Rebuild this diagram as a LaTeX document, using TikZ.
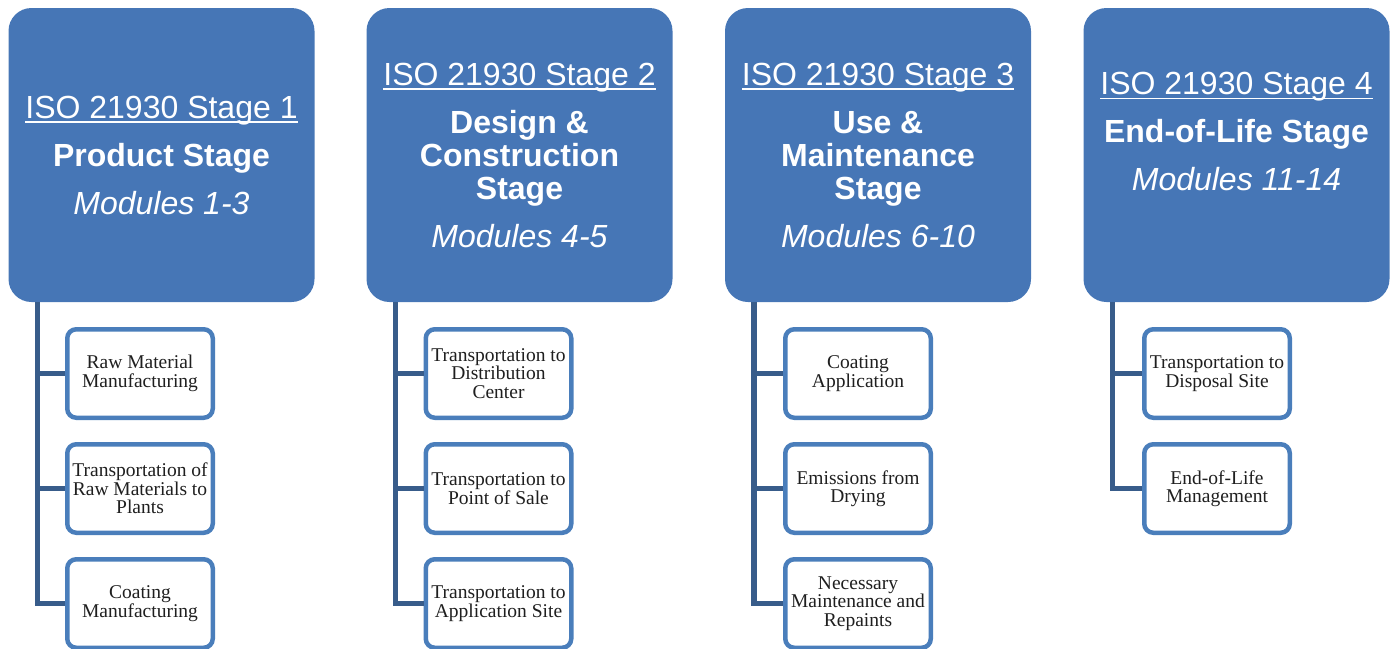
\documentclass[tikz,border=0pt]{standalone}
\usepackage{fontspec}
\setmainfont{Liberation Sans}
\newfontfamily\taskfont{Liberation Serif}
\usetikzlibrary{positioning}
\definecolor{stageblue}{RGB}{70,118,182}
\definecolor{taskblue}{RGB}{74,126,187}
\definecolor{trunkblue}{RGB}{56,92,138}
\newsavebox\isobox
\newcommand{\isoline}[1]{\sbox\isobox{#1}\rlap{\rule[-5pt]{\wd\isobox}{1.6pt}}\usebox\isobox}
\tikzset{
  stagebox/.style={fill=stageblue,rounded corners=23pt,minimum width=306pt,minimum height=294pt,
    text=white,align=center,inner sep=0pt,font=\fontsize{32}{33}\selectfont},
  taskbox/.style={draw=taskblue,fill=white,line width=4.5pt,rounded corners=9pt,
    minimum width=145.5pt,minimum height=88.5pt,align=center,inner sep=0pt,
    text=black!88,font=\taskfont\fontsize{19.5}{18.4}\selectfont},
  trunk/.style={draw=trunkblue,line width=5.5pt}
}
\begin{document}
\begin{tikzpicture}[x=1pt,y=-1pt]
\useasboundingbox (0,0) rectangle (1395,648);
% stages
\node[stagebox](s1) at (161.5,155){\isoline{ISO 21930 Stage 1}\\[15pt]\textbf{Product Stage}\\[15pt]\textit{Modules 1-3}};
\node[stagebox](s2) at (519.5,155){\isoline{ISO 21930 Stage 2}\\[15pt]\textbf{Design \&}\\\textbf{Construction}\\\textbf{Stage}\\[15pt]\textit{Modules 4-5}};
\node[stagebox](s3) at (878,155){\isoline{ISO 21930 Stage 3}\\[15pt]\textbf{Use \&}\\\textbf{Maintenance}\\\textbf{Stage}\\[15pt]\textit{Modules 6-10}};
\node[stagebox](s4) at (1236.5,155){\isoline{ISO 21930 Stage 4}\\[15pt]\textbf{End-of-Life Stage}\\[15pt]\textit{Modules 11-14}\\[15pt]\mbox{}};
% trunk points
\coordinate(t1) at ([xshift=29pt]s1.south west);
\coordinate(t2) at ([xshift=29pt]s2.south west);
\coordinate(t3) at ([xshift=29pt]s3.south west);
\coordinate(t4) at ([xshift=29pt]s4.south west);
% modules
\node[taskbox](m11) at (140,373.5){Raw Material\\Manufacturing};
\node[taskbox](m12) at (140,488.5){Transportation of\\Raw Materials to\\Plants};
\node[taskbox](m13) at (140,603.5){Coating\\Manufacturing};
\node[taskbox](m21) at (498.5,373.5){Transportation to\\Distribution\\Center};
\node[taskbox](m22) at (498.5,488.5){Transportation to\\Point of Sale};
\node[taskbox](m23) at (498.5,603.5){Transportation to\\Application Site};
\node[taskbox](m31) at (858,373.5){Coating\\Application};
\node[taskbox](m32) at (858,488.5){Emissions from\\Drying};
\node[taskbox](m33) at (858,603.5){Necessary\\Maintenance and\\Repaints};
\node[taskbox](m41) at (1217,373.5){Transportation to\\Disposal Site};
\node[taskbox](m42) at (1217,488.5){End-of-Life\\Management};
% connectors
\draw[trunk](t1)|-(m11.west);
\draw[trunk](t1)|-(m12.west);
\draw[trunk](t1)|-(m13.west);
\draw[trunk](t2)|-(m21.west);
\draw[trunk](t2)|-(m22.west);
\draw[trunk](t2)|-(m23.west);
\draw[trunk](t3)|-(m31.west);
\draw[trunk](t3)|-(m32.west);
\draw[trunk](t3)|-(m33.west);
\draw[trunk](t4)|-(m41.west);
\draw[trunk](t4)|-(m42.west);
\end{tikzpicture}
\end{document}
